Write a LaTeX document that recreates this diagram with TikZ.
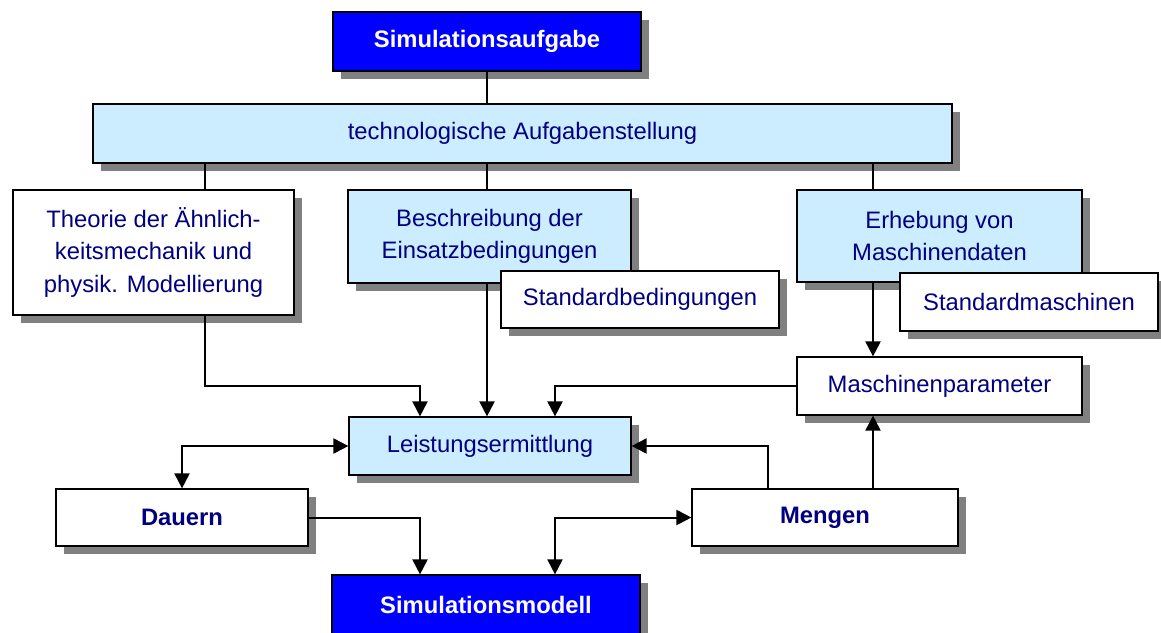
\documentclass[tikz,border=0pt]{standalone}
\usepackage{fontspec}
\setmainfont{Liberation Sans}
\usetikzlibrary{arrows.meta,shadows}
\definecolor{navytext}{RGB}{0,0,128}
\definecolor{paleblue}{RGB}{204,236,255}
\definecolor{strongblue}{RGB}{0,0,255}
\definecolor{shadowgray}{RGB}{128,128,128}
\begin{document}
\begin{tikzpicture}[x=1pt,y=-1pt,
  box/.style={draw=black, line width=1.2pt, align=center, text=navytext, inner sep=0pt,
    font=\fontsize{23.8}{32.5}\selectfont,
    drop shadow={shadow xshift=8pt, shadow yshift=-8pt, fill=shadowgray, opacity=1}},
  plainbox/.style={box, fill=white},
  palebox/.style={box, fill=paleblue},
  keybox/.style={box, fill=strongblue, text=white, font=\fontsize{23.8}{32.5}\selectfont\bfseries},
  conn/.style={draw=black, line width=2pt},
  tip/.style={-{Triangle[length=15pt,width=15pt]}},
  tipboth/.style={{Triangle[length=15pt,width=15pt]}-{Triangle[length=15pt,width=15pt]}}
]
\useasboundingbox (0,0) rectangle (1161,632);

% boxes
\node[keybox, minimum width=308pt, minimum height=59pt] (sa) at (487,41.5) {Simulationsaufgabe};
\node[palebox, minimum width=859pt, minimum height=59pt] (ta) at (522.5,133.5) {technologische Aufgabenstellung};
\node[plainbox, minimum width=281pt, minimum height=125pt] (th) at (153.5,252.5)
  {Theorie der Ähnlich-\\keitsmechanik und\\physik. Modellierung};
\node[palebox, minimum width=283pt, minimum height=93pt] (be) at (489.5,236.5)
  {Beschreibung der\\Einsatzbedingungen};
\node[plainbox, minimum width=278pt, minimum height=57pt] (sb) at (640,299.5) {Standardbedingungen};
\node[palebox, minimum width=285pt, minimum height=92pt] (er) at (939.5,236)
  {Erhebung von\\Maschinendaten};
\node[plainbox, minimum width=258pt, minimum height=58pt] (sm) at (1029,302) {Standardmaschinen};
\node[plainbox, minimum width=285pt, minimum height=58pt] (mp) at (939.5,386) {Maschinenparameter};
\node[palebox, minimum width=282pt, minimum height=58pt] (le) at (490,446) {Leistungsermittlung};
\node[plainbox, minimum width=252pt, minimum height=57pt, font=\fontsize{23.8}{32.5}\selectfont\bfseries] (da) at (182,517.5) {Dauern};
\node[plainbox, minimum width=266pt, minimum height=57pt, font=\fontsize{23.8}{32.5}\selectfont\bfseries] (me) at (825,517.5) {Mengen};
\node[keybox, minimum width=308pt, minimum height=59pt] (smo) at (486,604.5) {Simulationsmodell};

% guide positions for the connector routes
\coordinate (xa) at (205,0);
\coordinate (xb) at (420,0);
\coordinate (xc) at (555,0);
\coordinate (xd) at (873,0);
\coordinate (xe) at (768,0);
\coordinate (ya) at (0,386);

% connectors
\draw[conn] (sa.south) -- (sa.south |- ta.north);
\draw[conn] (ta.south -| xa) -- (th.north -| xa);
\draw[conn] (ta.south -| sa.south) -- (be.north -| sa.south);
\draw[conn] (ta.south -| xd) -- (er.north -| xd);
\draw[conn,tip] (th.south -| xa) |- (xb |- ya) -- (le.north -| xb);
\draw[conn,tip] (be.south -| sa.south) -- (le.north -| sa.south);
\draw[conn,tip] (mp.west) -| (le.north -| xc);
\draw[conn,tip] (er.south -| xd) -- (mp.north -| xd);
\draw[conn,tipboth] (da.north) |- (le.west);
\draw[conn,tip] (da.east) -| (smo.north -| xb);
\draw[conn,tipboth] (smo.north -| xc) |- (me.west);
\draw[conn,tip] (me.north -| xe) |- (le.east);
\draw[conn,tip] (me.north -| xd) -- (mp.south -| xd);
\end{tikzpicture}
\end{document}
